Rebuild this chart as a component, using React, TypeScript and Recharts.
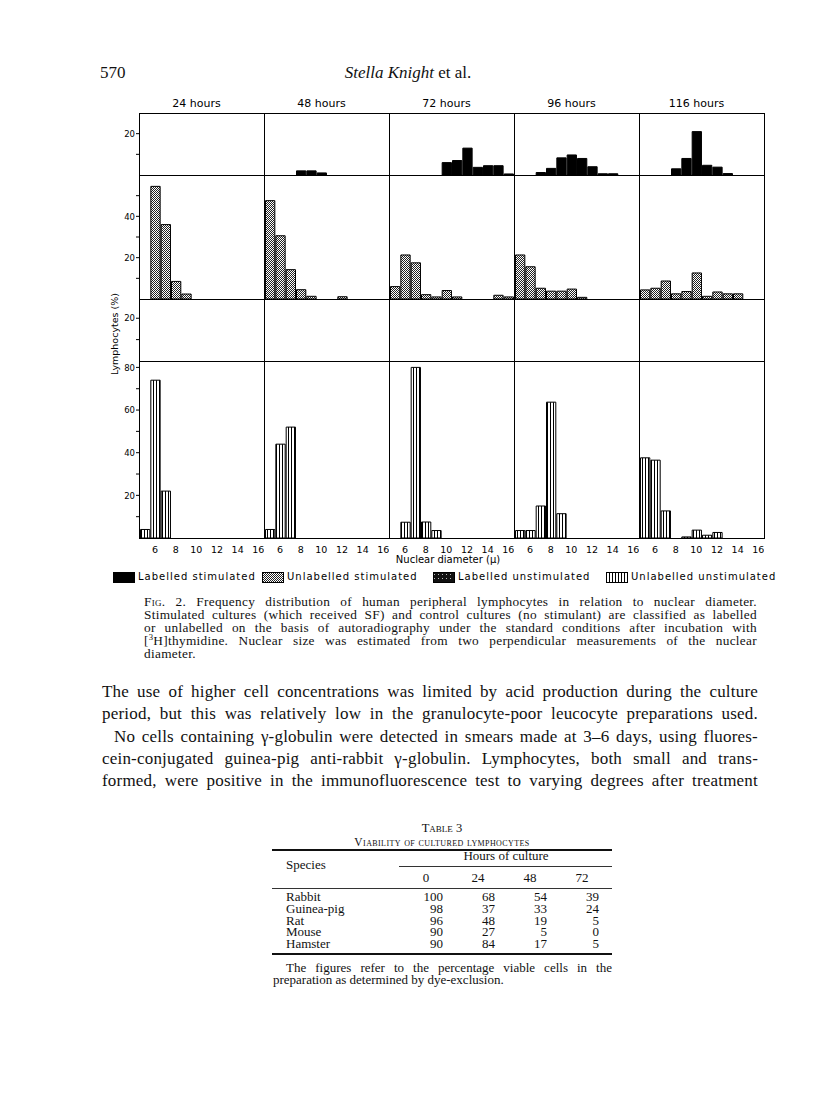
import React from "react";
import { BarChart, Bar, XAxis, YAxis } from "recharts";

// nuclear diameter bins (μ), one bar per bin
const DIAMETERS = [5, 6, 7, 8, 9, 10, 11, 12, 13, 14, 15, 16];
const HOURS = ["24 hours", "48 hours", "72 hours", "96 hours", "116 hours"];
const X_TICKS = [6, 8, 10, 12, 14, 16];
const SERIES = [
  "Labelled stimulated",
  "Unlabelled stimulated",
  "Labelled unstimulated",
  "Unlabelled unstimulated",
];

// % lymphocytes per bin, one list per culture time
const labelledStimulated = [
  [0, 0, 0, 0, 0, 0, 0, 0, 0, 0, 0, 0],
  [0, 0, 0, 2, 2, 1, 0, 0, 0, 0, 0, 0],
  [0, 0, 0, 0, 0, 6, 7, 13, 3.7, 4.5, 4.5, 0.5],
  [0, 0, 1.2, 3.2, 8.3, 9.7, 8, 4, 0.6, 0.6, 0, 0],
  [0, 0, 0, 3, 8, 21, 4.7, 3.8, 0.7, 0, 0, 0],
];
const unlabelledStimulated = [
  [0, 54.5, 36, 8.5, 2.4, 0, 0, 0, 0, 0, 0, 0],
  [47.6, 30.6, 14.2, 4.5, 1.3, 0, 0, 1.1, 0, 0, 0, 0],
  [6, 21.3, 17.5, 2.1, 1, 4.1, 1, 0, 0, 0, 1.8, 1],
  [21.3, 15.6, 5.2, 3.8, 3.8, 4.8, 0.8, 0, 0, 0, 0, 0],
  [4.4, 5.2, 8.7, 2.5, 3.6, 12.6, 1.3, 3.4, 2.5, 2.5, 0, 0],
];
const labelledUnstimulated = [
  [0, 0, 0, 0, 0, 0, 0, 0, 0, 0, 0, 0],
  [0, 0, 0, 0, 0, 0, 0, 0, 0, 0, 0, 0],
  [0, 0, 0, 0, 0, 0, 0, 0, 0, 0, 0, 0],
  [0, 0, 0, 0, 0, 0, 0, 0, 0, 0, 0, 0],
  [0, 0, 0, 0, 0, 0, 0, 0, 0, 0, 0, 0],
];
const unlabelledUnstimulated = [
  [4, 74, 22, 0, 0, 0, 0, 0, 0, 0, 0, 0],
  [4, 44, 52, 0, 0, 0, 0, 0, 0, 0, 0, 0],
  [0, 7.4, 80, 7.5, 3.5, 0, 0, 0, 0, 0, 0, 0],
  [3.5, 3.5, 15, 63.7, 11.4, 0, 0, 0, 0, 0, 0, 0],
  [37.6, 36.5, 12.7, 0, 0.5, 3.7, 1.3, 2.6, 0, 0, 0, 0],
];

const TICKS_SMALL = [10, 20];
const TICKS_MID = [10, 20, 30, 40, 50];
const TICKS_TALL = [10, 20, 30, 40, 50, 60, 70, 80];

// table 3
const SPECIES = ["Rabbit", "Guinea-pig", "Rat", "Mouse", "Hamster"];
const CULTURE_HOURS = ["0", "24", "48", "72"];
const VIABILITY = [
  [100, 68, 54, 39],
  [98, 37, 33, 24],
  [96, 48, 19, 5],
  [90, 27, 5, 0],
  [90, 84, 17, 5],
];

const SERIF = '"Liberation Serif", "Times New Roman", serif';
const SANS = '"DejaVu Sans", "Liberation Sans", sans-serif';

const ROWS = [
  { values: labelledStimulated, fill: "#000", yMax: 30, yTicks: TICKS_SMALL },
  { values: unlabelledStimulated, fill: "url(#mesh)", yMax: 60, yTicks: TICKS_MID },
  { values: labelledUnstimulated, fill: "url(#speck)", yMax: 29, yTicks: TICKS_SMALL },
  { values: unlabelledUnstimulated, fill: "url(#vlines)", yMax: 83, yTicks: TICKS_TALL },
];
const SWATCHES = ["#000", "url(#mesh)", "url(#speck)", "url(#vlines)"];
const LEGEND_X = [113, 262, 433, 606];

const LEFT = 139;
const COL_W = 125;
const ROW_TOP = [113, 175, 299, 361];
const ROW_H = [62, 124, 62, 177];
const Y_AXIS_W = 28;
const X_AXIS_H = 20;
const X_DOMAIN: [number, number] = [4.45, 16.55];
const BAR_W = COL_W / (X_DOMAIN[1] - X_DOMAIN[0]);

const YTick = (p: any) => {
  if (p.payload.value % 20 !== 0) return <g />;
  return (
    <text x={p.x} y={p.y} dy={3.2} textAnchor="end" fontSize={8.5} fontFamily={SANS} fill="#000">
      {p.payload.value}
    </text>
  );
};

function Panel({ row, col }: { row: number; col: number }) {
  const r = ROWS[row];
  const data = DIAMETERS.map((d, i) => ({ d, v: r.values[col][i] }));
  const first = col === 0;
  const last = row === ROWS.length - 1;
  const w = COL_W + (first ? Y_AXIS_W : 0);
  const h = ROW_H[row] + (last ? X_AXIS_H : 0);
  return (
    <div style={{ position: "absolute", left: LEFT + col * COL_W - (first ? Y_AXIS_W : 0), top: ROW_TOP[row], width: w, height: h }}>
      <BarChart width={w} height={h} data={data} margin={{ top: 0, right: 0, bottom: 0, left: 0 }} barCategoryGap={0} barGap={0}>
        <XAxis
          type="number" dataKey="d" domain={X_DOMAIN} ticks={X_TICKS} allowDataOverflow interval={0}
          hide={!last} height={X_AXIS_H} axisLine={false} tickLine={false} tickMargin={2}
          tick={{ fontSize: 9.5, fill: "#000", fontFamily: SANS }}
        />
        <YAxis
          type="number" domain={[0, r.yMax]} ticks={r.yTicks} allowDataOverflow interval={0}
          hide={!first} width={Y_AXIS_W} axisLine={false} tickSize={3} tickMargin={1}
          tickLine={{ stroke: "#000" }} tick={YTick}
        />
        <Bar dataKey="v" fill={r.fill} stroke="#000" strokeWidth={1} barSize={BAR_W} isAnimationActive={false} />
      </BarChart>
      <div style={{
        position: "absolute", left: first ? Y_AXIS_W : 0, top: 0, width: COL_W + 1, height: ROW_H[row] + 1,
        border: "1px solid #000", boxSizing: "border-box", pointerEvents: "none",
      }} />
    </div>
  );
}

function Line({ x, y, w, size, lh, children, justify = true, style }: any) {
  const lineH = lh ?? size * 1.2;
  return (
    <div style={{
      position: "absolute", left: x, top: y - lineH / 2 - size * 0.05, width: w, fontSize: size, lineHeight: `${lineH}px`,
      fontFamily: SERIF, whiteSpace: "nowrap", textAlign: justify ? "justify" : "left",
      textAlignLast: justify ? "justify" : "left", color: "#111", ...style,
    }}>
      {children}
    </div>
  );
}

const CAPTION = [
  <><span style={{ fontVariant: "small-caps" }}>Fig.</span> 2. Frequency distribution of human peripheral lymphocytes in relation to nuclear diameter.</>,
  "Stimulated cultures (which received SF) and control cultures (no stimulant) are classified as labelled",
  "or unlabelled on the basis of autoradiography under the standard conditions after incubation with",
  <>[<sup style={{ fontSize: "0.65em", lineHeight: 0 }}>3</sup>H]thymidine. Nuclear size was estimated from two perpendicular measurements of the nuclear</>,
];

const BODY = [
  "The use of higher cell concentrations was limited by acid production during the culture",
  "period, but this was relatively low in the granulocyte-poor leucocyte preparations used.",
  "No cells containing γ-globulin were detected in smears made at 3–6 days, using fluores-",
  "cein-conjugated guinea-pig anti-rabbit γ-globulin. Lymphocytes, both small and trans-",
  "formed, were positive in the immunofluorescence test to varying degrees after treatment",
];
const BODY_Y = [693, 715, 738, 760, 782];

const TBL_COL_RIGHT = [443, 495, 547, 599];
const TBL_ROW_Y = [897, 909, 921, 932, 944];

export default function App() {
  return (
    <div style={{ position: "absolute", left: 0, top: 0, width: 816, height: 1094, background: "#fff", overflow: "hidden" }}>
      <svg width={0} height={0} style={{ position: "absolute" }}>
        <defs>
          <pattern id="mesh" width={2} height={2} patternUnits="userSpaceOnUse">
            <rect width={2} height={2} fill="#fff" />
            <rect x={0} y={0} width={1} height={1} fill="#222" />
            <rect x={1} y={1} width={1} height={1} fill="#222" />
          </pattern>
          <pattern id="vlines" width={3} height={4} patternUnits="userSpaceOnUse">
            <rect width={3} height={4} fill="#fff" />
            <path d="M0.5 0V4" stroke="#000" strokeWidth={1} />
          </pattern>
          <pattern id="speck" width={4} height={4} patternUnits="userSpaceOnUse">
            <rect width={4} height={4} fill="#111" />
            <rect x={1} y={2} width={1} height={1} fill="#bbb" />
          </pattern>
        </defs>
      </svg>

      {/* running head */}
      <Line x={100} y={74} w={60} size={17} justify={false}>570</Line>
      <Line x={258} y={74} w={300} size={17} justify={false} style={{ textAlign: "center", textAlignLast: "center" }}>
        <i>Stella Knight</i> et al.
      </Line>

      {/* figure */}
      {HOURS.map((hr, c) => (
        <div key={hr} style={{
          position: "absolute", left: LEFT + c * COL_W - 5, top: 97, width: COL_W, textAlign: "center",
          fontFamily: SANS, fontSize: 11, lineHeight: "14px",
        }}>{hr}</div>
      ))}
      {ROWS.map((_, r) => HOURS.map((_, c) => <Panel key={`${r}-${c}`} row={r} col={c} />))}
      <div style={{
        position: "absolute", left: 115 - 60, top: 334 - 7, width: 120, height: 14, textAlign: "center",
        fontFamily: SANS, fontSize: 9.5, lineHeight: "14px", transform: "rotate(-90deg)",
      }}>Lymphocytes (%)</div>
      <div style={{
        position: "absolute", left: 448 - 80, top: 553, width: 160, textAlign: "center",
        fontFamily: SANS, fontSize: 10, lineHeight: "14px",
      }}>Nuclear diameter (μ)</div>

      {/* legend */}
      {SERIES.map((s, i) => (
        <div key={s} style={{
          position: "absolute", left: LEGEND_X[i], top: 570, display: "flex", alignItems: "center",
          fontFamily: SANS, fontSize: 10, letterSpacing: 1, lineHeight: "14px", whiteSpace: "nowrap",
        }}>
          <svg width={22} height={11} style={{ marginRight: 3 }}>
            <rect x={0.5} y={0.5} width={21} height={10} fill={SWATCHES[i]} stroke="#000" />
          </svg>
          <span>{s}</span>
        </div>
      ))}

      {/* caption */}
      {CAPTION.map((t, i) => (
        <Line key={i} x={144} y={602 + i * 13} w={613} size={13.3} lh={13} style={{ letterSpacing: 0.3 }}>{t}</Line>
      ))}
      <Line x={144} y={654} w={613} size={13.3} lh={13} justify={false} style={{ letterSpacing: 0.3 }}>diameter.</Line>

      {/* body text */}
      {BODY.map((t, i) => (
        <Line key={i} x={i === 2 ? 114 : 102} y={BODY_Y[i]} w={i === 2 ? 644 : 656} size={17} style={{ letterSpacing: 0.2 }}>{t}</Line>
      ))}

      {/* table 3 */}
      <Line x={272} y={829} w={340} size={12.5} justify={false} style={{ textAlign: "center", textAlignLast: "center", fontVariant: "small-caps" }}>Table 3</Line>
      <Line x={272} y={843} w={340} size={11.5} justify={false} style={{ textAlign: "center", textAlignLast: "center", fontVariant: "small-caps", letterSpacing: 0.4 }}>Viability of cultured lymphocytes</Line>
      <div style={{ position: "absolute", left: 272, top: 849, width: 340, height: 1.5, background: "#111" }} />
      <Line x={400} y={857} w={212} size={13} lh={12} justify={false} style={{ textAlign: "center", textAlignLast: "center" }}>Hours of culture</Line>
      <div style={{ position: "absolute", left: 399, top: 866, width: 213, height: 1, background: "#333" }} />
      <Line x={286} y={866} w={100} size={13} lh={12} justify={false}>Species</Line>
      <div style={{ position: "absolute", left: 0, top: 0 }} />
      {CULTURE_HOURS.map((h, j) => (
        <Line key={h} x={TBL_COL_RIGHT[j] - 30} y={879} w={26} size={13} lh={12} justify={false} style={{ textAlign: "center", textAlignLast: "center" }}>{h}</Line>
      ))}
      <div style={{ position: "absolute", left: 272, top: 888, width: 340, height: 1, background: "#333" }} />
      {SPECIES.map((s, i) => (
        <React.Fragment key={s}>
          <Line x={286} y={TBL_ROW_Y[i]} w={100} size={13} lh={11} justify={false}>{s}</Line>
          {VIABILITY[i].map((v, j) => (
            <Line key={j} x={TBL_COL_RIGHT[j] - 40} y={TBL_ROW_Y[i]} w={40} size={13} lh={11} justify={false} style={{ textAlign: "right", textAlignLast: "right" }}>{v}</Line>
          ))}
        </React.Fragment>
      ))}
      <div style={{ position: "absolute", left: 272, top: 953, width: 340, height: 1.5, background: "#111" }} />
      <Line x={286} y={969} w={326} size={13} lh={12}>The figures refer to the percentage viable cells in the</Line>
      <Line x={273} y={981} w={326} size={13} lh={12} justify={false}>preparation as determined by dye-exclusion.</Line>
    </div>
  );
}
